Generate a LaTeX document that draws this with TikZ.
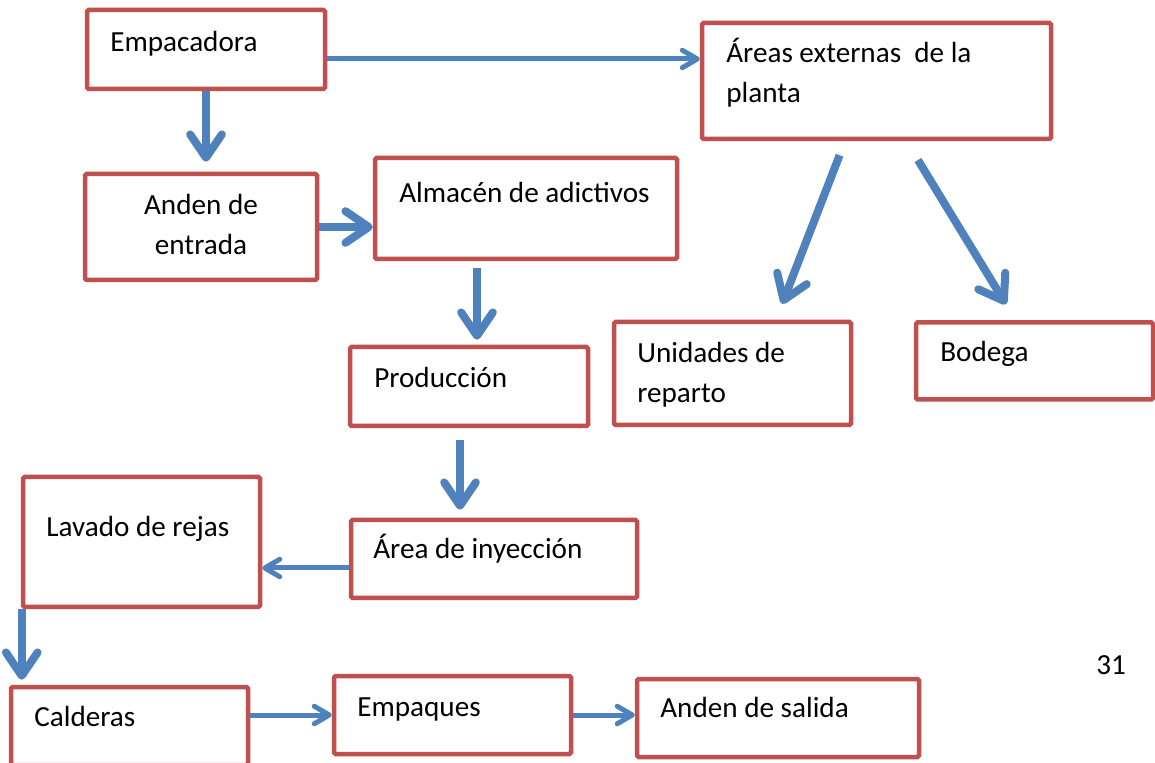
\documentclass[tikz,border=0pt]{standalone}
\usepackage{fontspec}
\setmainfont{Carlito}
\usetikzlibrary{arrows.meta,calc}

\definecolor{rojo}{HTML}{C0504D}
\definecolor{azul}{HTML}{4F81BD}

\tikzset{
    caja/.style={draw=rojo, line width=2.7pt, inner sep=0pt, rounded corners=1pt},
    texto/.style={anchor=base west, inner sep=0pt, align=left},
    gruesa/.style={draw=azul, line width=4.8pt,
        -{Straight Barb[round, length=14pt, width=19pt]}},
    fina/.style={draw=azul, line width=3pt,
        -{Straight Barb[round, length=9pt, width=10.5pt]}},
}

\begin{document}
\begin{tikzpicture}[x=0.6pt, y=-0.6pt, font=\fontsize{17.5}{24}\selectfont]
    \useasboundingbox (0, 0) rectangle (1155, 763);

    % cajas
    \node[caja, minimum width=142.8pt, minimum height=47.4pt] (emp) at (206, 49.5) {};
    \node[caja, minimum width=209.4pt, minimum height=69.6pt] (areas) at (876.5, 81) {};
    \node[caja, minimum width=139.2pt, minimum height=63.6pt] (anden) at (201, 227) {};
    \node[caja, minimum width=181.2pt, minimum height=60.6pt] (alm) at (526, 208.5) {};
    \node[caja, minimum width=142.8pt, minimum height=47.4pt] (prod) at (469, 386.5) {};
    \node[caja, minimum width=142.2pt, minimum height=61.8pt] (unid) at (732.5, 373.5) {};
    \node[caja, minimum width=142.2pt, minimum height=46.2pt] (bod) at (1034.5, 361) {};
    \node[caja, minimum width=142.2pt, minimum height=78pt] (lav) at (141.5, 542) {};
    \node[caja, minimum width=171.6pt, minimum height=46.8pt] (iny) at (494, 559) {};
    \node[caja, minimum width=142.2pt, minimum height=46.8pt] (cald) at (129.5, 726) {};
    \node[caja, minimum width=142.2pt, minimum height=46.8pt] (empq) at (452.5, 715) {};
    \node[caja, minimum width=169.2pt, minimum height=46.8pt] (sal) at (778, 718) {};

    % textos (en dos lineas: base de la ultima linea)
    \node[texto] (tEmp) at (110, 52) {Empacadora};
    \node[texto] (tAreas) at (726, 103) {Áreas externas\ \ de la\\planta};
    \node[texto, anchor=base, align=center] (tAnden) at (201, 255) {Anden de\\entrada};
    \node[texto] (tAlm) at (399, 203) {Almacén de adictivos};
    \node[texto] (tProd) at (374, 388) {Producción};
    \node[texto] (tUnid) at (637, 403) {Unidades de\\reparto};
    \node[texto] (tBod) at (940, 362) {Bodega};
    \node[texto] (tLav) at (46, 537) {Lavado de rejas};
    \node[texto] (tIny) at (373, 559) {Área de inyección};
    \node[texto] (tCald) at (34, 727) {Calderas};
    \node[texto] (tEmpq) at (357, 716) {Empaques};
    \node[texto] (tSal) at (660, 718) {Anden de salida};
    \node[texto] (pag) at (1096, 675) {31};

    % flechas
    \draw[fina] ($(emp.east)+(0, 9.5)$) -- ($(areas.west)+(0, -22)$);
    \draw[gruesa, shorten >=6pt] (emp.south) -- (emp.south |- anden.north);
    \draw[gruesa] (anden.east) -- (anden.east -| alm.west);
    \draw[gruesa, shorten <=4.2pt, shorten >=3pt] ($(alm.south)+(-49, 0)$) -- ($(prod.north)+(8, 0)$);
    \draw[gruesa, shorten <=7.2pt, shorten >=4.8pt] ($(prod.south)+(-9, 0)$) -- ($(iny.north)+(-34, 0)$);
    \draw[fina] ($(iny.west)+(0, 9)$) -- ($(lav.east)+(0, 26)$);
    \draw[gruesa, shorten >=3pt] ($(lav.south west)+(1, 0)$) -- ($(cald.north west)+(13, 0)$);
    \draw[fina] (cald.east |- empq.west) -- (empq.west);
    \draw[fina] (empq.east) -- (empq.east -| sal.west);
    \draw[gruesa, shorten <=9pt, shorten >=10.2pt] ($(areas.south)+(-31.5, 0)$) -- ($(unid.north)+(43.5, 0)$);
    \draw[gruesa, shorten <=13.2pt, shorten >=11.2pt] ($(areas.south)+(30, 0)$) -- ($(bod.north)+(-18.8, 0)$);
\end{tikzpicture}
\end{document}
